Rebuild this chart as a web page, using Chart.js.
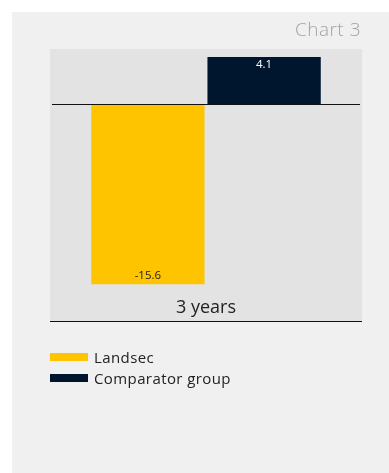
<!DOCTYPE html>
<html><head><meta charset="utf-8">
<script src="https://cdn.jsdelivr.net/npm/chart.js@4/dist/chart.umd.min.js"></script>
<style>
html,body{margin:0;padding:0;background:#fff;width:389px;height:473px;overflow:hidden;font-family:"Open Sans",Lato,sans-serif;}
#panel{position:absolute;left:12px;top:12px;width:377px;height:461px;background:#f0f0f0;}
#title{position:absolute;right:28px;top:4px;font-size:19px;color:#a3a3a3;font-weight:300;letter-spacing:0.5px;}
#wrap{position:absolute;left:0;top:0;width:377px;height:461px;}
#legend{position:absolute;left:38px;top:334px;font-size:15px;color:#222;letter-spacing:0.4px;}
.li{display:flex;align-items:center;height:21px;}
.sw{width:38px;height:8px;margin-right:6px;}
</style></head><body>
<div id="panel">
<div id="wrap"><canvas id="c"></canvas></div>
<div id="title">Chart 3</div>
<div id="legend"></div>
</div>
<script>
const categories = ["3 years"];
const seriesNames = ["Landsec", "Comparator group"];
const landsecValues = [-15.6];
const comparatorValues = [4.1];
const seriesColors = ["#fec400", "#00162f"];
const labelColors = ["#222222", "#ffffff"];

const bgPlugin = {
  id: 'bg',
  beforeDraw(chart) {
    const {ctx, chartArea} = chart;
    const bottom = Math.round(chartArea.bottom + 37);
    ctx.save();
    ctx.fillStyle = '#e3e3e3';
    ctx.fillRect(chartArea.left, chartArea.top, chartArea.right - chartArea.left, bottom - chartArea.top);
    ctx.strokeStyle = '#111';
    ctx.lineWidth = 1;
    ctx.beginPath();
    ctx.moveTo(chartArea.left, bottom + 0.5);
    ctx.lineTo(chartArea.right, bottom + 0.5);
    ctx.stroke();
    ctx.restore();
  },
  afterDatasetsDraw(chart) {
    const {ctx, chartArea} = chart;
    const y0 = Math.round(chart.scales.y.getPixelForValue(0)) + 0.5;
    ctx.save();
    ctx.strokeStyle = '#111';
    ctx.lineWidth = 1;
    ctx.beginPath();
    ctx.moveTo(chartArea.left + 2, y0);
    ctx.lineTo(chartArea.right - 2, y0);
    ctx.stroke();
    ctx.font = '11.5px "Open Sans", Lato, sans-serif';
    ctx.textAlign = 'center';
    ctx.textBaseline = 'middle';
    chart.data.datasets.forEach((ds, i) => {
      const meta = chart.getDatasetMeta(i);
      meta.data.forEach((bar, j) => {
        const v = ds.data[j];
        ctx.fillStyle = labelColors[i];
        const y = v >= 0 ? bar.y + 8 : bar.y - 9;
        ctx.fillText(String(v), bar.x, y);
      });
    });
    ctx.restore();
  }
};

const datasets = [landsecValues, comparatorValues].map((d, i) => ({
  label: seriesNames[i],
  data: d,
  backgroundColor: seriesColors[i],
  borderWidth: 0,
  categoryPercentage: 0.745,
  barPercentage: 0.975
}));

new Chart(document.getElementById('c'), {
  type: 'bar',
  data: {labels: categories, datasets},
  options: {
    responsive: true,
    maintainAspectRatio: false,
    animation: false,
    layout: {padding: {left: 38, right: 27, top: 37, bottom: 141}},
    plugins: {legend: {display: false}, tooltip: {enabled: false}},
    scales: {
      x: {
        grid: {display: false, drawTicks: false},
        border: {display: false},
        ticks: {color: '#222', font: {size: 18, family: '"Open Sans", Lato, sans-serif'}, padding: 13}
      },
      y: {
        display: false,
        min: -15.6,
        max: 4.8
      }
    }
  },
  plugins: [bgPlugin]
});

const lg = document.getElementById('legend');
seriesNames.forEach((n, i) => {
  const d = document.createElement('div');
  d.className = 'li';
  d.innerHTML = '<div class="sw" style="background:' + seriesColors[i] + '"></div><span>' + n + '</span>';
  lg.appendChild(d);
});
</script>
</body></html>
